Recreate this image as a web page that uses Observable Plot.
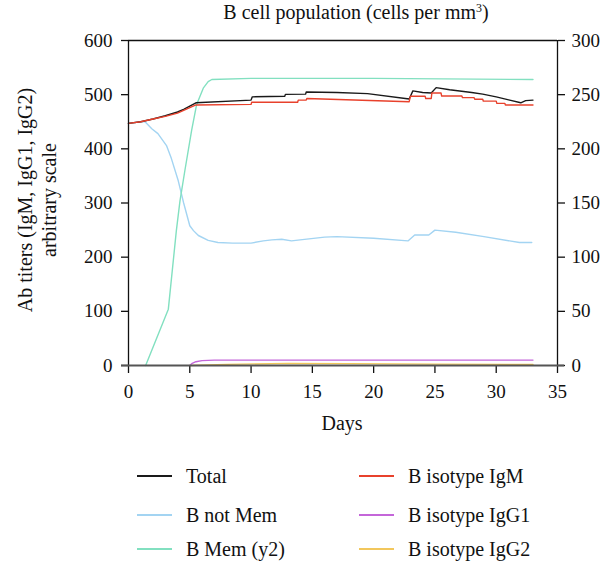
<!DOCTYPE html>
<html>
<head>
<meta charset="utf-8">
<script src="https://cdn.jsdelivr.net/npm/d3@7"></script>
<script src="https://cdn.jsdelivr.net/npm/@observablehq/plot@0.6"></script>
<style>
  html, body { margin: 0; padding: 0; background: #fff; }
  body { width: 615px; height: 564px; position: relative; overflow: hidden; font-family: "Liberation Serif", "DejaVu Serif", serif; color: #111; }
  #chart { position: absolute; left: 0; top: 0; }
  .abs { position: absolute; white-space: nowrap; }
  #title { left: 0; width: 712px; top: 1px; text-align: center; font-size: 20px; }
  #xlabel { left: 0; width: 684px; top: 412px; text-align: center; font-size: 20px; }
  #ylabel { left: 37px; top: 200px; transform: translate(-50%, -50%) rotate(-90deg); text-align: center; font-size: 20px; line-height: 24px; }
  .leg { position: absolute; font-size: 20px; line-height: 24px; }
  .leg .sw { position: absolute; top: 11px; width: 35px; height: 2px; }
  .leg .tx { position: absolute; left: 49px; top: 0; white-space: nowrap; }
</style>
</head>
<body>
<div id="chart"></div>
<div id="title" class="abs">B cell population (cells per mm<sup style="font-size:12px; vertical-align: 7px;">3</sup>)</div>
<div id="ylabel" class="abs">Ab titers (IgM, IgG1, IgG2)<br>arbitrary scale</div>
<div id="xlabel" class="abs">Days</div>
<div id="legend"></div>
<script>
// ---- data: [day, value] ----
const xTicks = [0, 5, 10, 15, 20, 25, 30, 35];
const yLeftTicks = [0, 100, 200, 300, 400, 500, 600];
const yRightTicks = [0, 50, 100, 150, 200, 250, 300];

const total = [[0,447],[1,450],[2,455],[3,461],[4,468],[4.5,473],[5,479],[5.5,485],[10,490],[10.1,496],[12.75,497],[12.8,500.5],[14.45,501],[14.5,505],[17,504],[19.5,502],[22.9,492],[23.2,507],[24,504],[24.7,503],[25.1,513],[26.2,509],[28,504],[28.9,501],[30,496],[31.1,490],[32,485],[32.4,489],[33,490]];

const igm = [[0,447],[1,450],[2,455],[3,460],[4,466],[4.5,471],[5,476],[5.5,481],[10,482],[10.05,486],[13.8,486],[13.85,490],[14.5,490],[14.55,493],[22.9,487],[23.0,497],[24.2,497],[24.25,493],[24.7,493],[24.75,503],[25.5,503],[25.55,497.5],[27.2,497.5],[27.25,494.5],[28.2,494.5],[28.25,491.5],[28.9,491.5],[28.95,488],[30,488],[30.05,484],[30.7,484],[30.75,481],[33,481]];

const notMem = [[0,447],[1,450],[1.35,450],[1.9,437],[2.4,428],[3.1,406],[3.5,382],[4.06,341],[4.5,300],[5.0,258],[5.3,249],[5.7,240],[6.5,231],[7.3,227],[8.5,226],[10,226],[11,230],[11.7,232],[12.5,233],[13.3,230],[14,232],[16,237],[17,238],[20,235],[22.8,230],[23.35,241],[24.5,241],[25,250],[26.7,246],[29,238],[31.9,227],[32.9,227]];

// right axis (y2) values
const mem = [[1.4,0],[3.25,52],[3.9,124],[4.2,152],[4.6,180],[5.15,217],[5.56,241],[6.1,256],[6.5,262],[6.8,264],[10,265],[20,265],[33,264]];

const igg1 = [[5,0],[5.2,4],[5.5,7],[6,9],[7,10],[20,10],[33,10]];
const igg2 = [[5,0],[8,2],[13,4],[18,3.5],[25,2.5],[33,2]];

const series = [
  {name: "Total", data: total, color: "#1a1a1a", y2: false},
  {name: "B not Mem", data: notMem, color: "#a3d4f2", y2: false},
  {name: "B Mem (y2)", data: mem, color: "#82e0c0", y2: true},
  {name: "B isotype IgM", data: igm, color: "#e8412c", y2: false},
  {name: "B isotype IgG1", data: igg1, color: "#c466d9", y2: false},
  {name: "B isotype IgG2", data: igg2, color: "#f2c75c", y2: false}
];

const FONT = "Liberation Serif";
const ratio = 600 / 300;
const lineMarks = ["B isotype IgG2", "B isotype IgG1", "B not Mem", "B Mem (y2)", "Total", "B isotype IgM"].map(n => {
  const s = series.find(d => d.name === n);
  return Plot.line(s.data, {
    x: d => d[0],
    y: d => s.y2 ? d[1] * ratio : d[1],
    stroke: s.color,
    strokeWidth: 1.4
  });
});

const chart = Plot.plot({
  width: 615,
  height: 450,
  marginTop: 40,
  marginBottom: 85,
  marginLeft: 128,
  marginRight: 58,
  style: {fontFamily: FONT, fontSize: "19px", color: "#111", background: "transparent"},
  x: {domain: [0, 35], label: null},
  y: {domain: [0, 600], label: null},
  marks: [
    ...lineMarks,
    Plot.ruleX([0], {stroke: "#111", strokeWidth: 1.3}),
    Plot.ruleX([35], {stroke: "#111", strokeWidth: 1.3}),
    Plot.ruleY([600], {stroke: "#111", strokeWidth: 1.3}),
    Plot.axisY(yLeftTicks, {anchor: "left", tickSize: 7, tickPadding: 9, label: null, fontSize: 19, fontFamily: FONT, strokeWidth: 1.3}),
    Plot.axisY(yRightTicks.map(v => v * ratio), {anchor: "right", tickSize: 7, tickPadding: 7, label: null, tickFormat: d => d / ratio, fontSize: 19, fontFamily: FONT, strokeWidth: 1.3}),
    Plot.axisX(xTicks, {anchor: "bottom", tickSize: 8, tickPadding: 11, label: null, fontSize: 19, fontFamily: FONT, strokeWidth: 1.3}),
    Plot.ruleY([0], {stroke: "#555", strokeWidth: 2.2, insetLeft: -7, insetRight: -7})
  ]
});
d3.select(chart).attr("font-family", FONT);
d3.select(chart).selectAll("g, text, tspan").attr("font-family", FONT).style("font-family", "'" + FONT + "', serif");
document.getElementById("chart").appendChild(chart);

// legend
const legendOrder = ["Total", "B isotype IgM", "B not Mem", "B isotype IgG1", "B Mem (y2)", "B isotype IgG2"];
const legCols = [137, 359];
const legRows = [464, 503, 537];
const legend = document.getElementById("legend");
legendOrder.forEach((n, i) => {
  const s = series.find(d => d.name === n);
  const el = document.createElement("div");
  el.className = "leg";
  el.style.left = legCols[i % 2] + "px";
  el.style.top = legRows[Math.floor(i / 2)] + "px";
  el.innerHTML = `<div class="sw" style="background:${s.color}"></div><div class="tx">${n}</div>`;
  legend.appendChild(el);
});
</script>
</body>
</html>
